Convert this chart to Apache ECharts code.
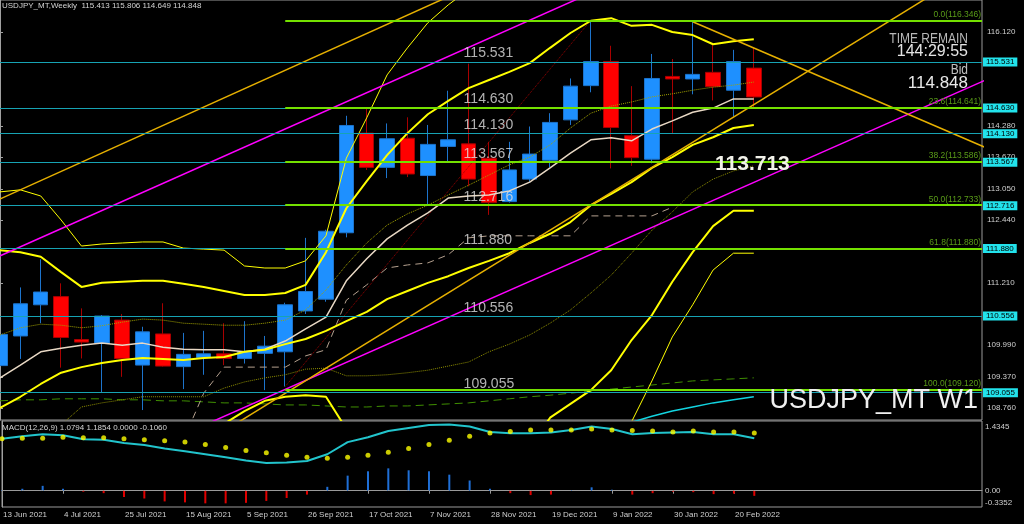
<!DOCTYPE html>
<html><head><meta charset="utf-8">
<script src="https://cdn.jsdelivr.net/npm/echarts@6/dist/echarts.min.js"></script>
<style>html,body{margin:0;padding:0;background:#000;}#c{width:1024px;height:524px;}</style>
</head><body><div id="c"></div>
<script>
// ---- categories ----
const dates = ['13 Jun 2021','20 Jun 2021','27 Jun 2021','4 Jul 2021','11 Jul 2021','18 Jul 2021','25 Jul 2021','1 Aug 2021','8 Aug 2021','15 Aug 2021','22 Aug 2021','29 Aug 2021','5 Sep 2021','12 Sep 2021','19 Sep 2021','26 Sep 2021','3 Oct 2021','10 Oct 2021','17 Oct 2021','24 Oct 2021','31 Oct 2021','7 Nov 2021','14 Nov 2021','21 Nov 2021','28 Nov 2021','5 Dec 2021','12 Dec 2021','19 Dec 2021','26 Dec 2021','2 Jan 2022','9 Jan 2022','16 Jan 2022','23 Jan 2022','30 Jan 2022','6 Feb 2022','13 Feb 2022','20 Feb 2022','27 Feb 2022'];
const dateTicks = [0,3,6,9,12,15,18,21,24,27,30,33,36];

// ---- OHLC ----
const open  = [109.59,110.17,110.78,110.94,110.10,110.03,110.48,109.60,110.21,109.57,109.75,109.82,109.73,109.83,109.86,110.66,110.89,112.19,114.14,113.47,114.04,113.31,113.88,113.93,113.65,112.80,113.24,113.61,114.40,115.07,115.54,114.09,113.63,115.25,115.20,115.33,114.98,115.413];
const high  = [110.32,111.12,111.67,111.20,110.71,110.58,110.60,110.35,110.81,110.23,110.27,110.42,110.46,110.17,110.82,112.09,112.25,114.48,114.62,114.33,114.45,114.30,114.97,115.50,113.97,113.97,114.27,114.53,115.21,116.35,115.85,115.06,115.69,115.59,116.32,115.87,115.77,115.806];
const low   = [109.40,109.72,110.42,109.55,109.73,109.07,109.37,108.72,109.57,109.13,109.41,109.60,109.63,109.11,109.18,110.60,110.84,112.10,113.42,113.26,113.28,112.73,113.58,113.10,112.54,112.78,113.19,113.47,114.30,114.94,113.45,113.50,113.55,114.14,114.90,114.78,114.46,114.649];
const close = [110.20,110.80,111.03,110.14,110.05,110.56,109.73,110.25,109.58,109.81,109.82,109.73,109.86,109.97,110.78,111.04,112.22,114.29,113.47,114.03,113.34,113.92,114.01,113.24,112.78,113.42,113.73,114.35,115.06,115.54,114.25,113.66,115.21,115.20,115.29,115.05,115.54,114.848];

// ---- indicator lines ----
const bandUpper3 = [112.99,113.03,112.91,112.44,111.93,111.97,111.99,112.01,112.01,111.89,111.87,111.85,111.54,111.50,111.50,111.64,112.13,113.65,114.44,115.28,115.81,116.30,116.65,116.95,117.10,117.20,117.30,117.40,117.50,117.60,117.55,117.50,117.50,117.45,117.40,117.35,117.30,117.30];
const bandUpper2 = [111.85,111.81,111.72,111.42,111.13,111.21,111.23,111.25,111.25,111.19,111.13,111.05,110.97,110.97,111.01,111.17,111.81,112.67,113.20,113.71,114.14,114.51,114.77,115.02,115.18,115.34,115.51,115.81,116.10,116.34,116.39,116.24,116.26,116.12,116.06,115.88,115.94,115.98];
const bandMid    = [108.76,108.98,109.23,109.45,109.56,109.64,109.70,109.74,109.72,109.70,109.74,109.76,109.86,109.90,110.01,110.11,110.27,110.46,110.64,110.89,111.05,111.21,111.34,111.50,111.64,111.79,111.99,112.17,112.40,112.73,112.95,113.18,113.46,113.67,113.91,114.06,114.24,114.30];
const bandLower2 = [107.9,107.8,107.7,107.8,107.9,108.0,108.0,108.0,108.0,107.95,108.05,108.45,108.70,108.90,108.98,109.01,108.98,108.35,107.6,107.2,106.9,106.8,106.9,107.1,107.4,107.7,108.0,108.57,108.84,109.11,109.50,110.09,110.58,111.23,111.81,112.32,112.62,112.62];
const bandLower3 = [107.6,107.5,107.4,107.4,107.5,107.6,107.6,107.6,107.6,107.6,107.6,107.6,107.7,107.8,107.8,107.8,107.6,106.9,106.4,105.9,105.5,105.3,105.3,105.4,105.6,105.9,106.3,106.8,107.2,107.6,107.95,108.49,109.29,110.15,110.78,111.46,111.79,111.79];
const maLight    = [109.35,109.60,109.86,109.93,109.99,110.03,109.99,110.03,109.95,109.91,109.90,109.90,109.86,109.91,110.07,110.31,110.54,111.25,111.68,112.07,112.34,112.58,112.87,112.91,112.93,113.01,113.18,113.46,113.75,114.01,114.05,113.99,114.22,114.38,114.55,114.63,114.81,114.81];
const maDotUpper = [110.19,110.33,110.40,110.38,110.33,110.37,110.44,110.50,110.48,110.42,110.40,110.38,110.38,110.42,110.48,110.68,111.07,111.56,111.99,112.34,112.56,112.73,112.93,113.12,113.32,113.52,113.67,113.91,114.24,114.53,114.67,114.75,114.85,114.91,114.98,115.04,115.08,115.14];
const maDotLower = [108.20,108.10,108.15,108.43,108.78,108.86,108.92,108.98,108.98,108.98,108.98,109.15,109.27,109.35,109.41,109.52,109.54,109.39,109.39,109.41,109.45,109.50,109.58,109.66,109.86,110.01,110.19,110.42,110.68,111.01,111.36,111.79,112.24,112.60,112.99,113.24,113.40,113.50];
const stepLine   = [null,null,null,null,null,null,null,null,null,108.13,109.05,109.56,109.56,109.56,109.56,109.78,109.90,110.87,111.17,111.50,111.56,111.60,111.76,112.09,112.13,112.13,112.13,112.13,112.13,112.52,112.52,112.52,112.52,112.69,null,null,null,null];
const maLong     = [108.90,108.92,108.92,108.94,108.94,108.94,108.92,108.92,108.90,108.90,108.88,108.86,108.86,108.84,108.82,108.82,108.80,108.78,108.78,108.80,108.80,108.82,108.84,108.86,108.90,108.94,108.98,109.01,109.05,109.09,109.13,109.17,109.21,109.25,109.29,109.31,109.33,109.35];
const maCyan     = [null,null,null,null,null,null,null,null,null,null,null,null,null,null,null,null,null,null,null,null,null,null,null,null,null,null,null,null,null,108.25,108.36,108.48,108.60,108.70,108.78,108.86,108.92,108.98];

// ---- drawn objects: [bar index, price] anchors ----
const zigzag          = [[14,109.18],[29,116.35]];
const trendMagentaUp  = [[-1,111.56],[30,117.06]];
const trendMagentaLow = [[10,108.42],[49,115.29]];
const trendOrangeUp   = [[-1,112.67],[23,116.99]];
const trendOrangeRise = [[11,108.31],[46,116.91]];
const trendOrangeFall = [[34,116.32],[49,113.75]];

// ---- horizontal levels ----
const levels = [115.531,114.630,114.130,113.567,112.716,111.880,110.556,109.055];
const fibNames  = ['0.0','23.6','38.2','50.0','61.8','100.0'];
const fibPrices = [116.346,114.641,113.586,112.733,111.880,109.120];
const fibStart = 14;
const bid = 114.848;
const priceTicks = [116.120,114.280,113.670,113.050,112.440,111.210,109.990,109.370,108.760];

// ---- MACD ----
const macdMain   = [1.07,1.12,1.16,1.14,1.06,1.05,0.98,0.94,0.87,0.81,0.75,0.69,0.62,0.57,0.58,0.61,0.75,1.00,1.10,1.23,1.29,1.35,1.36,1.32,1.21,1.18,1.18,1.20,1.25,1.32,1.27,1.16,1.19,1.20,1.21,1.16,1.16,1.0794];
const macdSignal = [1.07,1.08,1.08,1.10,1.09,1.09,1.07,1.05,1.03,1.00,0.95,0.89,0.83,0.78,0.73,0.69,0.67,0.69,0.73,0.79,0.87,0.95,1.04,1.12,1.19,1.22,1.25,1.25,1.25,1.27,1.25,1.24,1.23,1.21,1.23,1.21,1.21,1.1854];
const macdHist   = [0.01,0.04,0.10,0.04,-0.02,-0.05,-0.13,-0.16,-0.22,-0.24,-0.26,-0.26,-0.25,-0.21,-0.15,-0.08,0.08,0.31,0.40,0.46,0.42,0.40,0.33,0.21,0.04,-0.05,-0.09,-0.08,0.01,0.07,0.02,-0.08,-0.05,-0.02,-0.03,-0.07,-0.06,-0.106];
const macdTicks = [1.4345,0,-0.3352];

const FONT = '"Liberation Sans", Arial, sans-serif';
const XMAX = 48.2;

function ln(arr, color, width, type, z) {
  return {type:'line', xAxisIndex:0, yAxisIndex:0, data: arr.map((v,i)=>[i, v]),
    symbol:'none', showSymbol:false, lineStyle:{color, width, type: type||'solid'},
    z: z||3, silent:true, animation:false, connectNulls:false};
}
function seg(pts, color, width, type) {
  return {type:'line', xAxisIndex:0, yAxisIndex:0, data: pts, symbol:'none', showSymbol:false,
    lineStyle:{color, width, type: type||'solid'}, z:3, silent:true, animation:false};
}

const markData = [];
levels.forEach(p => markData.push({yAxis:p,
  lineStyle:{color:'#17a3b3', width:1, type:'solid'},
  label:{show:true, position:'end', distance:1, formatter:p.toFixed(3), backgroundColor:'#22e3ec',
    color:'#000', padding:[1,3,0,3], fontSize:8, fontFamily:FONT}}));
markData.push({yAxis:bid, lineStyle:{opacity:0},
  label:{show:true, position:'end', distance:1, formatter:bid.toFixed(3), backgroundColor:'#ffffff',
    color:'#000', padding:[1,3,0,3], fontSize:8, fontFamily:FONT}});
fibPrices.forEach((p,k) => markData.push([
  {coord:[fibStart,p], lineStyle:{color:'#74e000', width:2, type:'solid'},
   label:{show:true, position:'insideEndTop', distance:[1,1], formatter:fibNames[k]+'('+p.toFixed(3)+')',
     color:'#5a9c18', fontSize:8.5, fontFamily:FONT}},
  {coord:[XMAX,p]}]));

const option = {
  backgroundColor:'#000',
  animation:false,
  textStyle:{fontFamily:FONT},
  grid:[
    {left:-2, top:0, width:984, height:420, show:true, borderColor:'#9a9a9a', borderWidth:1, backgroundColor:'transparent'},
    {left:-2, top:421, width:984, height:86, show:true, borderColor:'#9a9a9a', borderWidth:1, backgroundColor:'transparent'}
  ],
  xAxis:[
    {type:'value', gridIndex:0, min:0, max:XMAX, show:false},
    {type:'value', gridIndex:1, min:0, max:XMAX,
     axisLine:{show:true, lineStyle:{color:'#9a9a9a'}},
     splitLine:{show:false},
     axisTick:{show:true, customValues:dateTicks, length:3, lineStyle:{color:'#9a9a9a'}},
     axisLabel:{show:true, customValues:dateTicks, formatter:v=>dates[Math.round(v)], color:'#cfcfcf',
       fontSize:8, align:'left', margin:4, padding:[0,0,0,1], fontFamily:FONT}}
  ],
  yAxis:[
    {type:'value', gridIndex:0, position:'right', min:108.525, max:116.746,
     axisLine:{show:true, lineStyle:{color:'#a0a0a0'}},
     splitLine:{show:false},
     axisTick:{show:true, customValues:priceTicks, length:3, lineStyle:{color:'#a0a0a0'}},
     axisLabel:{show:true, customValues:priceTicks, formatter:v=>v.toFixed(3), color:'#cfcfcf', fontSize:8, margin:5, fontFamily:FONT}},
    {type:'value', gridIndex:1, position:'right', min:-0.3352, max:1.4345,
     axisLine:{show:true, lineStyle:{color:'#a0a0a0'}},
     splitLine:{show:false},
     axisTick:{show:false},
     axisLabel:{show:true, customValues:macdTicks, margin:3, color:'#cfcfcf', fontSize:8, fontFamily:FONT,
       formatter:v=> v===0 ? '{z|0.00}' : (v>0 ? '{t|'+v.toFixed(4)+'}' : '{b|'+v.toFixed(4)+'}'),
       rich:{t:{padding:[12,0,0,0], fontSize:8, color:'#cfcfcf'}, b:{padding:[0,0,8,0], fontSize:8, color:'#cfcfcf'}, z:{fontSize:8, color:'#cfcfcf'}}}}
  ],
  series:[
    {type:'candlestick', xAxisIndex:0, yAxisIndex:0,
     data: open.map((o,i)=>[i, o, close[i], low[i], high[i]]),
     encode:{x:0, y:[1,2,3,4]}, barWidth:15, z:2, silent:true,
     itemStyle:{color:'#1e90ff', color0:'#ff0000', borderColor:'#1d74cc', borderColor0:'#a80000', borderWidth:1}},
    ln(maLong, '#3f8f00', 1, [8,5]),
    ln(maCyan, '#12d4e0', 1.5),
    ln(maDotLower, '#8f8f00', 1, 'dotted'),
    ln(maDotUpper, '#a3a300', 1, 'dotted'),
    ln(stepLine, '#b5a18f', 1, [7,5]),
    seg(zigzag, '#9a0000', 1, 'dotted'),
    ln(maLight, '#e8d8c4', 1.5),
    ln(bandLower3, '#ffff00', 1),
    ln(bandUpper3, '#ffff00', 1),
    ln(bandLower2, '#ffff00', 2),
    ln(bandUpper2, '#ffff00', 2),
    ln(bandMid, '#ffff00', 2),
    seg(trendMagentaUp, '#ff00ff', 1.5),
    seg(trendMagentaLow, '#ff00ff', 1.5),
    seg(trendOrangeUp, '#e6b000', 1.5),
    seg(trendOrangeRise, '#e6b000', 1.5),
    seg(trendOrangeFall, '#e6b000', 1.5),
    {type:'scatter', xAxisIndex:0, yAxisIndex:0, z:5, silent:true, symbolSize:1,
     itemStyle:{color:'rgba(0,0,0,0)'},
     data: levels.map(p=>[22.78, p]),
     label:{show:true, position:[0,-1], align:'left', verticalAlign:'bottom', formatter:p=>p.value[1].toFixed(3),
       color:'#dedede', fontSize:14, fontFamily:FONT},
     markLine:{silent:true, symbol:['none','none'], animation:false, data:markData}},
    {type:'bar', xAxisIndex:1, yAxisIndex:1, barWidth:2, silent:true,
     data: macdHist.map((v,i)=>[i, v]),
     itemStyle:{color:p=> p.value[1]>=0 ? '#1f6fd6' : '#e00000'},
     markLine:{silent:true, symbol:['none','none'], label:{show:false},
       data:[{yAxis:0}], lineStyle:{color:'#9a9a9a', type:'dotted', width:1}}},
    {type:'line', xAxisIndex:1, yAxisIndex:1, data: macdMain.map((v,i)=>[i,v]), symbol:'none',
     lineStyle:{color:'#22c4cc', width:2}, silent:true, z:3},
    {type:'scatter', xAxisIndex:1, yAxisIndex:1, data: macdSignal.map((v,i)=>[i,v]), symbolSize:5,
     itemStyle:{color:'#ffff00'}, silent:true, z:4}
  ],
  graphic:[
    {type:'text', x:2, y:2, z:100, style:{text:'USDJPY_MT,Weekly  '+[open[37],high[37],low[37],close[37]].map(v=>v.toFixed(3)).join(' '),
      fill:'#d4d4d4', font:'8px '+FONT, verticalAlign:'top'}},
    {type:'text', x:2, y:424, z:100, style:{text:'MACD(12,26,9) '+macdMain[37].toFixed(4)+' '+macdSignal[37].toFixed(4)+' 0.0000 '+macdHist[37].toFixed(4),
      fill:'#d4d4d4', font:'8px '+FONT, verticalAlign:'top'}},
    {type:'text', x:968, y:31, scaleX:0.8, z:100, style:{text:'TIME REMAIN', fill:'#b8b8b8', font:'15px '+FONT, align:'right', verticalAlign:'top'}},
    {type:'text', x:968, y:44, z:100, style:{text:'144:29:55', fill:'#e4e4e4', font:'16px '+FONT, align:'right', verticalAlign:'top'}},
    {type:'text', x:968, y:62, scaleX:0.8, z:100, style:{text:'Bid', fill:'#c0c0c0', font:'15px '+FONT, align:'right', verticalAlign:'top'}},
    {type:'text', x:968, y:75, z:100, style:{text:bid.toFixed(3), fill:'#e8e8e8', font:'17px '+FONT, align:'right', verticalAlign:'top'}},
    {type:'text', x:715, y:154, z:100, style:{text:'113.713', fill:'#f2f2ea', font:'bold 21px '+FONT, verticalAlign:'top'}},
    {type:'text', x:978, y:387, z:100, style:{text:'USDJPY_MT W1', fill:'#f0f0f0', font:'27px '+FONT, align:'right', verticalAlign:'top'}}
  ]
};
const chart = echarts.init(document.getElementById('c'), null, {renderer:'canvas'});
chart.setOption(option);
</script>
</body></html>
